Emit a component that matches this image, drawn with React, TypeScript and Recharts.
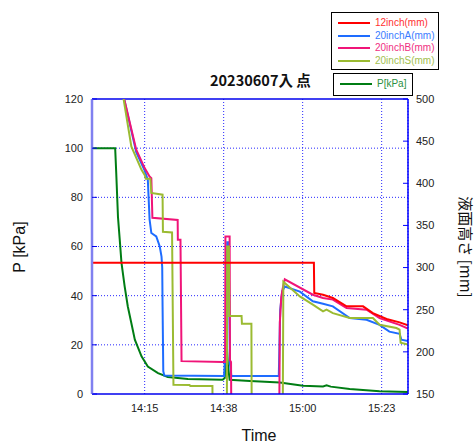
import { LineChart, Line, XAxis, YAxis, CartesianGrid, ReferenceLine } from "recharts";

// time axis is minutes after 14:00
const xTickMinutes = [15, 37.5, 60, 82.5];
const xTickLabels = ["14:15", "14:38", "15:00", "15:23"];
const pTicks = [0, 20, 40, 60, 80, 100, 120];
const levelTicks = [150, 200, 250, 300, 350, 400, 450, 500];

// P [kPa] (left axis)
const pTime = [0, 6.6, 6.9, 7.4, 7.9, 8.4, 9.3, 10.2, 11.2, 12.2, 14.1, 15.9, 18.8, 21.6, 27.3, 37.2, 37.8, 38.3, 38.7, 39.2, 45.0, 53.5, 60.1, 65.8, 66.8, 68.0, 73.4, 81.9, 90];
const pKPa = [100, 100, 90, 72, 62.8, 53.3, 43.8, 35.6, 28.9, 22.1, 15.3, 11.2, 8.5, 6.9, 6.1, 5.8, 6.5, 22.7, 12, 5.8, 5.3, 4.7, 3.4, 3.1, 3.5, 3.0, 2.0, 1.1, 0.8];

// liquid level [mm] (right axis), 100 = below the axis
const i12Time = [0, 63.2, 63.3, 65.8, 68.6, 72.5, 77.2, 80.0, 83.9, 87.6, 90];
const i12Level = [305.8, 305.8, 269.8, 267.8, 263.9, 254, 254, 246, 239, 235, 231.4];

const aTime = [8.6, 12.6, 15.0, 15.9, 16.4, 16.9, 18.3, 19.3, 19.8, 20.0, 20.1, 20.3, 20.6, 37.6, 38.0, 38.5, 38.9, 39.3, 39.7, 53.2, 53.6, 54.2, 54.9, 59.2, 62.9, 65.8, 68.6, 73.4, 78.2, 81.9, 84.7, 87.6, 88.1, 90];
const aLevel = [510, 437, 415, 404, 357, 341, 337, 325, 313, 300, 254, 177, 172, 171.5, 200, 330, 330, 185, 171.3, 171.3, 250, 272, 277.5, 271.5, 260, 257, 254, 240, 238, 232, 224, 221.5, 214.5, 213];

const bTime = [8.6, 12.6, 15.0, 16.4, 16.9, 17.2, 24.4, 24.45, 25.2, 25.5, 37.3, 37.9, 38.0, 39.2, 39.3, 39.6, 39.7, 53.3, 53.5, 53.9, 54.3, 54.9, 62.9, 65.8, 68.6, 72.5, 78.2, 81.9, 87.6, 90];
const bLevel = [510, 439.8, 418, 408, 406, 359, 356.5, 333, 333, 189, 188, 188, 337, 337, 190, 188, 100, 100, 235, 265, 275, 286, 267.8, 264, 262, 252, 250, 240, 232, 227.5];

const sTime = [8.6, 11.2, 14.1, 15.0, 15.3, 16.6, 16.9, 20.1, 20.2, 22.8, 23.2, 27.8, 28.0, 34.3, 34.4, 38.4, 38.5, 39.0, 39.1, 42.6, 42.7, 45.4, 45.5, 54.3, 54.5, 59.2, 62.9, 65.8, 66.8, 68.6, 73.4, 80.0, 81.9, 86.7, 87.6, 87.9, 90];
const sLevel = [510, 443.8, 416, 410, 405.4, 405.4, 388.5, 386.5, 342.5, 341.7, 161, 160.6, 159.5, 159.5, 100, 100, 325, 325, 242.6, 242.6, 233.4, 233.4, 100, 100, 283.3, 265.8, 256, 248, 250, 246, 240.2, 240.2, 232.2, 228.3, 226.3, 210.8, 208.8];

const zip = (t: number[], v: number[]) => t.map((x, i) => ({ t: x, v: v[i] }));

const RED = "#ff0000";
const BLUE = "#1e6cff";
const PINK = "#f01478";
const OLIVE = "#9bbb32";
const GREEN = "#007d14";

const FONT = "'Liberation Sans', Arial, sans-serif";
const JP = "'Noto Sans CJK JP', 'Liberation Sans', sans-serif";

const tickStyle = { fontSize: 11, fill: "#222", fontFamily: FONT };

function LegendRow({ color, text, labelColor }: { color: string; text: string; labelColor: string }) {
  return (
    <div style={{ display: "flex", alignItems: "center", height: 12.6 }}>
      <div style={{ width: 32, height: 2, background: color, marginRight: 5 }} />
      <span style={{ fontSize: 10, color: labelColor, fontFamily: FONT, lineHeight: "12px" }}>{text}</span>
    </div>
  );
}

export default function App() {
  return (
    <div style={{ position: "relative", width: 476, height: 444, background: "#fff" }}>
      <style>{"body{margin:0}"}</style>
      <LineChart width={476} height={444} margin={{ top: 99, right: 0, bottom: 0, left: 0 }}>
        <CartesianGrid
          yAxisId="left"
          stroke="#2626ff"
          strokeDasharray="1 2"
          horizontalValues={[20, 40, 60, 80, 100]}
        />
        <XAxis
          type="number"
          dataKey="t"
          domain={[0, 90]}
          ticks={xTickMinutes}
          tickFormatter={(v: number) => xTickLabels[xTickMinutes.indexOf(v)]}
          allowDataOverflow
          height={50}
          tickLine={false}
          tickMargin={4}
          axisLine={{ stroke: "#0000ee", strokeWidth: 1.5 }}
          tick={tickStyle}
        />
        <YAxis
          yAxisId="left"
          domain={[0, 120]}
          ticks={pTicks}
          allowDataOverflow
          width={92}
          tickSize={-5}
          tickMargin={14}
          axisLine={{ stroke: "#8080f0", strokeWidth: 2.5 }}
          tickLine={{ stroke: "#0000ee" }}
          tick={tickStyle}
        />
        <YAxis
          yAxisId="right"
          orientation="right"
          domain={[150, 500]}
          ticks={levelTicks}
          allowDataOverflow
          width={68}
          tickSize={-5}
          tickMargin={13}
          axisLine={{ stroke: "#0000ff", strokeWidth: 1.5 }}
          tickLine={{ stroke: "#0000ff" }}
          tick={tickStyle}
        />
        <ReferenceLine yAxisId="left" y={120} stroke="#0000ee" strokeWidth={1.5} />
        <Line yAxisId="left" data={zip(pTime, pKPa)} dataKey="v" stroke={GREEN} strokeWidth={2} dot={false} isAnimationActive={false} type="linear" />
        <Line yAxisId="right" data={zip(aTime, aLevel)} dataKey="v" stroke={BLUE} strokeWidth={2} dot={false} isAnimationActive={false} type="linear" />
        <Line yAxisId="right" data={zip(bTime, bLevel)} dataKey="v" stroke={PINK} strokeWidth={2} dot={false} isAnimationActive={false} type="linear" />
        <Line yAxisId="right" data={zip(sTime, sLevel)} dataKey="v" stroke={OLIVE} strokeWidth={2} dot={false} isAnimationActive={false} type="linear" />
        <Line yAxisId="right" data={zip(i12Time, i12Level)} dataKey="v" stroke={RED} strokeWidth={2} dot={false} isAnimationActive={false} type="linear" />
      </LineChart>

      <div style={{ position: "absolute", left: 210, top: 69, fontSize: 14.5, fontWeight: "bold", fontFamily: JP, color: "#111", whiteSpace: "nowrap" }}>
        20230607入 点
      </div>

      <div style={{ position: "absolute", left: 331, top: 12, width: 108, height: 58, border: "1px solid #000", background: "#fff", padding: "4px 0 0 6px", boxSizing: "border-box" }}>
        <LegendRow color={RED} text="12inch(mm)" labelColor="#ff3030" />
        <LegendRow color={BLUE} text="20inchA(mm)" labelColor="#3a7cff" />
        <LegendRow color={PINK} text="20inchB(mm)" labelColor="#f0307f" />
        <LegendRow color={OLIVE} text="20inchS(mm)" labelColor="#a2c050" />
      </div>
      <div style={{ position: "absolute", left: 333, top: 73, width: 80, height: 23, border: "1px solid #000", background: "#fff", padding: "4px 0 0 6px", boxSizing: "border-box" }}>
        <LegendRow color={GREEN} text="P[kPa]" labelColor="#2a9040" />
      </div>

      <div style={{ position: "absolute", left: 20, top: 247, transform: "translate(-50%, -50%) rotate(-90deg)", fontSize: 16, fontFamily: FONT, color: "#111", whiteSpace: "nowrap" }}>
        P [kPa]
      </div>
      <div style={{ position: "absolute", left: 259, top: 436, transform: "translate(-50%, -50%)", fontSize: 16, fontFamily: FONT, color: "#111", whiteSpace: "nowrap" }}>
        Time
      </div>
      <div style={{ position: "absolute", left: 466, top: 247, transform: "translate(-50%, -50%) rotate(90deg)", fontSize: 15, fontFamily: JP, color: "#111", whiteSpace: "nowrap" }}>
        液面高さ [mm]
      </div>
    </div>
  );
}
